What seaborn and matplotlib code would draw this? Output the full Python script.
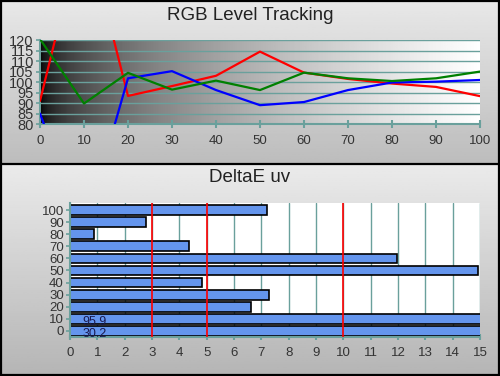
import numpy as np
import pandas as pd
import matplotlib
matplotlib.use("Agg")
import matplotlib.pyplot as plt
import seaborn as sns

# ---- data ----
levels = [0, 10, 20, 30, 40, 50, 60, 70, 80, 90, 100]
red_vals = [91, 176, 93.4, 98.1, 103, 114.5, 104.5, 101.5, 99.3, 97.7, 93.3]
green_vals = [120.5, 89.8, 104.4, 96.4, 100.7, 96.2, 104.5, 101.8, 100.5, 101.8, 105]
blue_vals = [85, 29, 101.8, 105.2, 96.2, 89, 90.5, 96.2, 99.8, 100.2, 101]

de_categories = ["100", "90", "80", "70", "60", "50", "40", "30", "20", "10", "0"]
de_values = [7.2, 2.77, 0.88, 4.37, 11.95, 14.92, 4.84, 7.29, 6.64, 95.9, 30.2]
de_labels = {"10": "95.9", "0": "30.2"}
ref_lines = [3, 5, 10]

top_yticks = [80, 85, 90, 95, 100, 105, 110, 115, 120]
bottom_xticks = list(range(0, 16))

TEAL = "#6aa09c"

sns.set_theme(style="white")
plt.rcParams["font.family"] = ["Liberation Sans", "DejaVu Sans"]

fig = plt.figure(figsize=(5.0, 3.76), dpi=100)

# ---- panel backgrounds (decorative) ----
bg = fig.add_axes([0, 0, 1, 1], zorder=-10)
g1 = np.linspace(0.91, 0.74, 100).reshape(-1, 1)
bg.imshow(g1, extent=[0, 500, 163, 0], cmap="gray", vmin=0, vmax=1, aspect="auto")
g2 = np.linspace(0.92, 0.71, 100).reshape(-1, 1)
bg.imshow(g2, extent=[0, 500, 376, 164], cmap="gray", vmin=0, vmax=1, aspect="auto")
bg.plot([0, 500], [163.5, 163.5], color="black", lw=1.6)
bg.plot([0.8, 0.8], [0, 376], color="black", lw=1.6)
bg.plot([499.2, 499.2], [0, 376], color="black", lw=1.6)
bg.plot([0, 500], [0.8, 0.8], color="black", lw=1.6)
bg.plot([0, 500], [375.2, 375.2], color="black", lw=1.6)
bg.set_xlim(0, 500)
bg.set_ylim(376, 0)
bg.axis("off")

# ---- top chart ----
ax1 = fig.add_axes([0.08, 0.670, 0.88, 0.2234])
grad = np.sqrt(np.linspace(0, 1, 256)).reshape(1, -1)
ax1.imshow(grad, extent=[0, 100, 80, 120], cmap="gray", vmin=0, vmax=1,
           aspect="auto", zorder=0)
for yv in top_yticks:
    ax1.axhline(yv, color=TEAL, lw=1.0, zorder=1)

df = pd.DataFrame({
    "level": levels * 3,
    "value": red_vals + green_vals + blue_vals,
    "ch": ["R"] * 11 + ["G"] * 11 + ["B"] * 11,
})
sns.lineplot(data=df, x="level", y="value", hue="ch",
             palette={"R": "#ff0000", "G": "#008000", "B": "#0000ff"},
             hue_order=["R", "B", "G"], linewidth=1.6, legend=False, ax=ax1,
             zorder=3)
ax1.set_xlim(0, 100)
ax1.set_ylim(80, 120)
ax1.set_xticks(levels)
ax1.set_yticks(top_yticks)
ax1.set_xlabel("")
ax1.set_ylabel("")
for s in ["top", "right"]:
    ax1.spines[s].set_visible(False)
for s in ["left", "bottom"]:
    ax1.spines[s].set_color(TEAL)
    ax1.spines[s].set_linewidth(1.5)
ax1.tick_params(axis="x", direction="inout", length=6, width=1.5, color=TEAL,
                labelsize=9.5, labelcolor="#333333", pad=5, bottom=True)
ax1.tick_params(axis="y", direction="out", length=3, width=1.2, color=TEAL,
                labelsize=10.5, labelcolor="#333333", pad=1.5, left=True)
fig.text(0.5, 0.958, "RGB Level Tracking", ha="center", va="center",
         fontsize=13.5, color="#222222")

# ---- bottom chart ----
ax2 = fig.add_axes([0.14, 0.1037, 0.82, 0.3564])
ax2.set_facecolor("white")
for xv in bottom_xticks:
    ax2.axvline(xv, color=TEAL, lw=1.0, zorder=0)
dfb = pd.DataFrame({"level": de_categories, "de": de_values})
sns.barplot(data=dfb, x="de", y="level", order=de_categories, orient="h",
            color="#6495ed", saturation=1, edgecolor="black", linewidth=1.2,
            width=0.8, ax=ax2, zorder=2)
for xv in ref_lines:
    ax2.axvline(xv, color="#ff0000", lw=1.2, zorder=3)
for i, cat in enumerate(de_categories):
    if cat in de_labels:
        ax2.text(0.45, i + 0.25, de_labels[cat], ha="left", va="center",
                 fontsize=9, color="#1a1a50", zorder=4)
ax2.set_xlim(0, 15)
ax2.set_ylim(10.5, -0.58)
ax2.set_xticks(bottom_xticks)
ax2.set_xlabel("")
ax2.set_ylabel("")
for s in ["top", "right"]:
    ax2.spines[s].set_visible(False)
for s in ["left", "bottom"]:
    ax2.spines[s].set_color(TEAL)
    ax2.spines[s].set_linewidth(1.5)
ax2.tick_params(axis="x", direction="inout", length=5, width=1.5, color=TEAL,
                labelsize=9.5, labelcolor="#333333", pad=5, bottom=True)
ax2.tick_params(axis="y", direction="out", length=3, width=1.2, color=TEAL,
                labelsize=9.5, labelcolor="#333333", pad=1.5, left=True)
fig.text(0.5, 0.529, "DeltaE uv", ha="center", va="center",
         fontsize=13.5, color="#222222")

fig.savefig("out.png", dpi=100)
